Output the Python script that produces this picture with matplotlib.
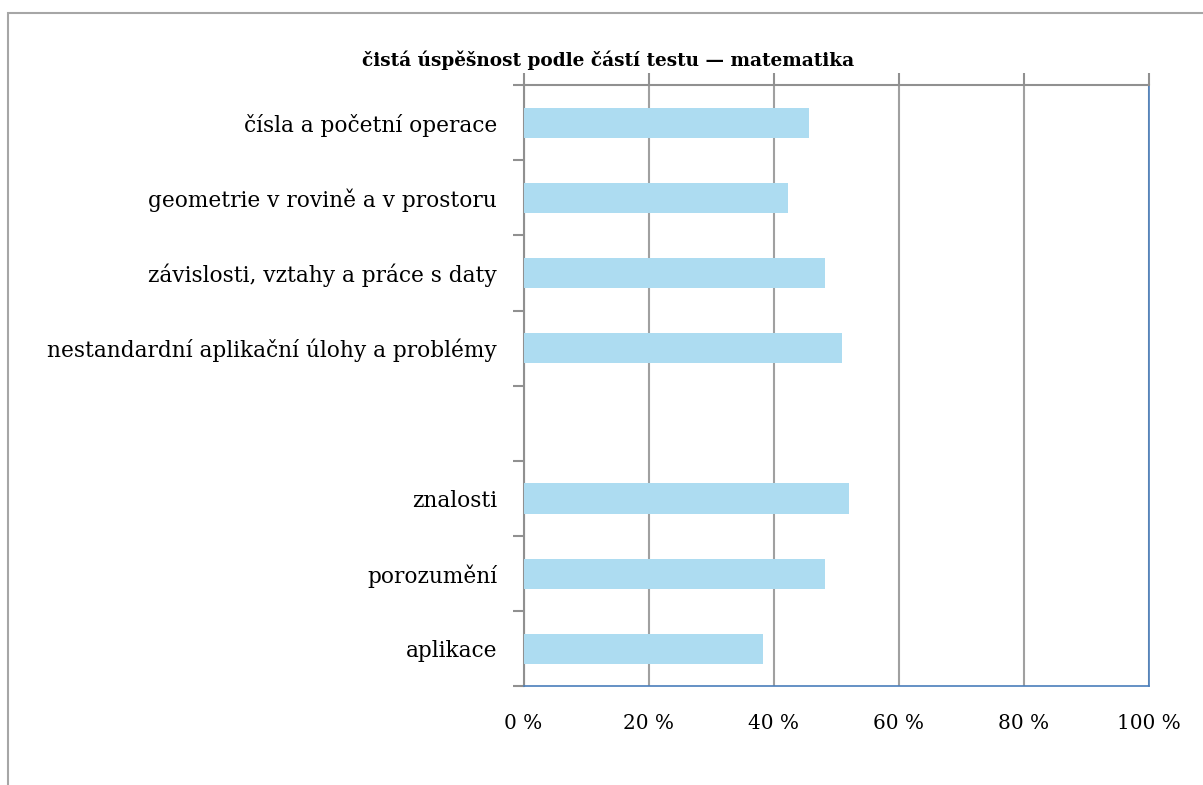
import matplotlib.pyplot as plt
import matplotlib.patches as mpatches
import numpy as np

categories = ['čísla a početní operace',
              'geometrie v rovině a v prostoru',
              'závislosti, vztahy a práce s daty',
              'nestandardní aplikační úlohy a problémy',
              '',
              'znalosti',
              'porozumění',
              'aplikace']
values = [45.7, 42.3, 48.2, 51.0, None, 52.0, 48.3, 38.3]
xticks = [0, 20, 40, 60, 80, 100]
xtick_labels = ['0 %', '20 %', '40 %', '60 %', '80 %', '100 %']
title = 'čistá úspěšnost podle částí testu — matematika'

plt.rcParams['font.family'] = ['DejaVu Serif']

fig = plt.figure(figsize=(12.03, 7.85), dpi=100)
# outer chart frame (runs off the right/bottom edge)
fig.patches.append(mpatches.Rectangle((8 / 1203, -0.05), 1.2, 1 - 13 / 785 + 0.05,
                                      transform=fig.transFigure, fill=False,
                                      edgecolor='#a6a6a6', linewidth=1.5))

ax = fig.add_axes([0.4352, 0.1255, 0.9547 - 0.4352, 0.8917 - 0.1255])

pos = [i for i, v in enumerate(values) if v is not None]
vals = [v for v in values if v is not None]
ax.barh(pos, vals, height=0.4, color='#addcf1', zorder=3)

ax.set_xlim(0, 100)
ax.set_ylim(len(categories) - 0.5, -0.5)

ax.set_xticks(xticks)
ax.set_xticklabels(xtick_labels, fontsize=14.4)
ax.tick_params(axis='x', bottom=False, top=True, labeltop=False,
               direction='out', length=9, width=1.5, color='#909090', pad=11)
ax.grid(axis='x', color='#a0a0a0', linewidth=1.5, zorder=0)

ax.set_yticks(range(len(categories)))
ax.set_yticklabels(categories, fontsize=15.6)
ax.tick_params(axis='y', which='major', length=0, pad=19)
ax.set_yticks(np.arange(-0.5, len(categories)), minor=True)
ax.tick_params(axis='y', which='minor', direction='out', length=8,
               width=1.5, color='#909090')

for side in ['left', 'top']:
    ax.spines[side].set_color('#909090')
    ax.spines[side].set_linewidth(1.5)
for side in ['bottom', 'right']:
    ax.spines[side].set_color('#4a7ebb')
    ax.spines[side].set_linewidth(1.2)

fig.text(0.5055, 1 - 60 / 785, title, ha='center', va='center',
         fontsize=13.3, fontweight='bold')

fig.savefig('out.png', dpi=100)
